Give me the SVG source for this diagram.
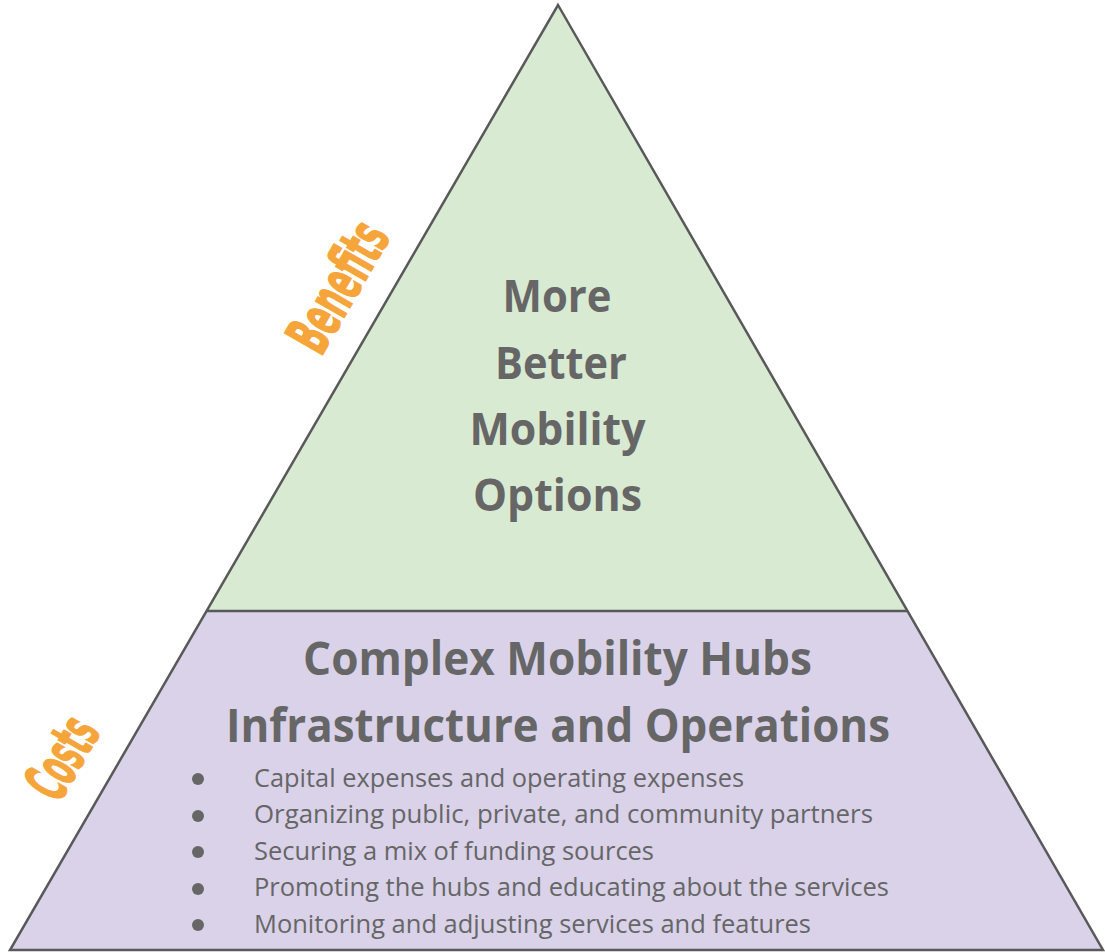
<svg xmlns="http://www.w3.org/2000/svg" width="1105" height="952" viewBox="0 0 1105 952">
<style>
.edge{stroke:#595959;stroke-width:2.5;stroke-linejoin:miter;fill:none}
.title{font-family:"Open Sans","DejaVu Sans","Liberation Sans",sans-serif;font-weight:bold;fill:#666666;text-anchor:middle}
.bul{font-family:"Open Sans","DejaVu Sans","Liberation Sans",sans-serif;font-size:26px;fill:#666666}
.lab{font-family:"DejaVu Sans Condensed","DejaVu Sans","Liberation Sans",sans-serif;font-weight:bold;font-size:60px;fill:#F6A53B;stroke:#F6A53B;stroke-width:1.5;text-anchor:middle}
.dot{fill:#666666}
</style>
<rect width="1105" height="952" fill="#ffffff"/>
<g id="top-tier">
<polygon points="558,5 206.6,611 907.5,611" fill="#D9EAD3"/>
<text class="title" font-size="45" x="557" y="312" textLength="109" lengthAdjust="spacingAndGlyphs">More</text>
<text class="title" font-size="45" x="561" y="379" textLength="132" lengthAdjust="spacingAndGlyphs">Better</text>
<text class="title" font-size="45" x="557.5" y="445" textLength="176" lengthAdjust="spacingAndGlyphs">Mobility</text>
<text class="title" font-size="45" x="557.5" y="511" textLength="169" lengthAdjust="spacingAndGlyphs">Options</text>
</g>
<g id="bottom-tier">
<polygon points="206.6,611 907.5,611 1103,950 10,950" fill="#D9D2E9"/>
<text class="title" font-size="47" x="557.5" y="675" textLength="509" lengthAdjust="spacingAndGlyphs">Complex Mobility Hubs</text>
<text class="title" font-size="47" x="558" y="742" textLength="664" lengthAdjust="spacingAndGlyphs">Infrastructure and Operations</text>
<circle class="dot" cx="198" cy="779" r="6"/>
<circle class="dot" cx="198" cy="816" r="6"/>
<circle class="dot" cx="198" cy="852" r="6"/>
<circle class="dot" cx="198" cy="889" r="6"/>
<circle class="dot" cx="198" cy="925" r="6"/>
<text class="bul" x="254" y="787" textLength="490" lengthAdjust="spacingAndGlyphs">Capital expenses and operating expenses</text>
<text class="bul" x="254" y="823" textLength="619" lengthAdjust="spacingAndGlyphs">Organizing public, private, and community partners</text>
<text class="bul" x="254" y="860" textLength="400" lengthAdjust="spacingAndGlyphs">Securing a mix of funding sources</text>
<text class="bul" x="254" y="896" textLength="635" lengthAdjust="spacingAndGlyphs">Promoting the hubs and educating about the services</text>
<text class="bul" x="254" y="933" textLength="557" lengthAdjust="spacingAndGlyphs">Monitoring and adjusting services and features</text>
</g>
<g id="connectors">
<polygon class="edge" points="558,5 1103,950 10,950"/>
<line class="edge" x1="206.6" y1="611" x2="907.5" y2="611"/>
</g>
<g id="label-benefits">
<text class="lab" transform="translate(337,286) rotate(-60)" x="0" y="22" textLength="140" lengthAdjust="spacingAndGlyphs">Benefits</text>
</g>
<g id="label-costs">
<text class="lab" transform="translate(61,757) rotate(-60)" x="0" y="22" textLength="84" lengthAdjust="spacingAndGlyphs">Costs</text>
</g>
</svg>
